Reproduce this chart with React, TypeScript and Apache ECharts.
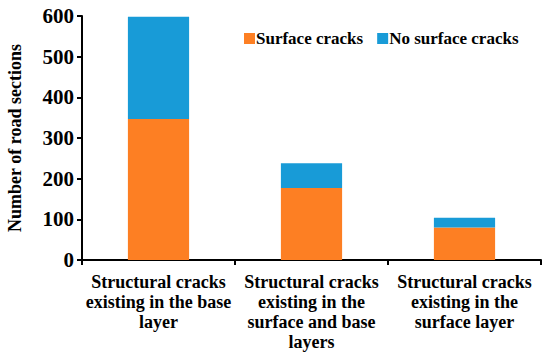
import React, { useEffect, useRef } from "react";
import * as echarts from "echarts";

const categories = [
  "Structural cracks\nexisting in the base\nlayer",
  "Structural cracks\nexisting in the\nsurface and base\nlayers",
  "Structural cracks\nexisting in the\nsurface layer",
];
const surfaceCracks = [347, 177, 80];
const noSurfaceCracks = [251, 61, 24];
const yTicks = { min: 0, max: 600, interval: 100 };

const FONT = "Times New Roman, Liberation Serif, DejaVu Serif, serif";

export default function App() {
  const ref = useRef<HTMLDivElement>(null);
  useEffect(() => {
    if (!ref.current) return;
    const chart = echarts.init(ref.current, null, { renderer: "svg" });
    chart.setOption({
      animation: false,
      backgroundColor: "#ffffff",
      textStyle: { fontFamily: FONT },
      legend: {
        top: 25,
        left: 239,
        itemWidth: 11,
        itemHeight: 11,
        itemGap: 14,
        icon: "rect",
        textStyle: { fontFamily: FONT, fontWeight: "bold", fontSize: 17, color: "#000", padding: [0, 0, 0, -4] },
        data: ["Surface cracks", "No surface cracks"],
      },
      grid: { left: 82, right: 9, top: 16, bottom: 99, containLabel: false, outerBoundsMode: "none" },
      xAxis: {
        type: "category",
        data: categories,
        axisLine: { lineStyle: { color: "#000", width: 2 } },
        axisTick: { show: true, length: 5, alignWithLabel: false, lineStyle: { color: "#000", width: 2 } },
        axisLabel: {
          interval: 0,
          margin: 12,
          color: "#000",
          fontFamily: FONT,
          fontWeight: "bold",
          fontSize: 18,
          lineHeight: 20,
        },
      },
      yAxis: {
        type: "value",
        min: yTicks.min,
        max: yTicks.max,
        interval: yTicks.interval,
        name: "Number of road sections",
        nameLocation: "middle",
        nameGap: 58,
        nameTextStyle: { color: "#000", fontFamily: FONT, fontWeight: "bold", fontSize: 18 },
        splitLine: { show: false },
        axisLine: { show: true, lineStyle: { color: "#000", width: 2 } },
        axisTick: { show: true, length: 5, lineStyle: { color: "#000", width: 2 } },
        axisLabel: { margin: 8, color: "#000", fontFamily: FONT, fontWeight: "bold", fontSize: 21 },
      },
      series: [
        {
          name: "Surface cracks",
          type: "bar",
          stack: "total",
          barWidth: "40%",
          data: surfaceCracks,
          itemStyle: { color: "#FD7F23" },
        },
        {
          name: "No surface cracks",
          type: "bar",
          stack: "total",
          barWidth: "40%",
          data: noSurfaceCracks,
          itemStyle: { color: "#189BD7" },
        },
      ],
    });
    return () => chart.dispose();
  }, []);
  return <div ref={ref} style={{ width: 550, height: 359, position: "absolute", left: 0, top: 0 }} />;
}
